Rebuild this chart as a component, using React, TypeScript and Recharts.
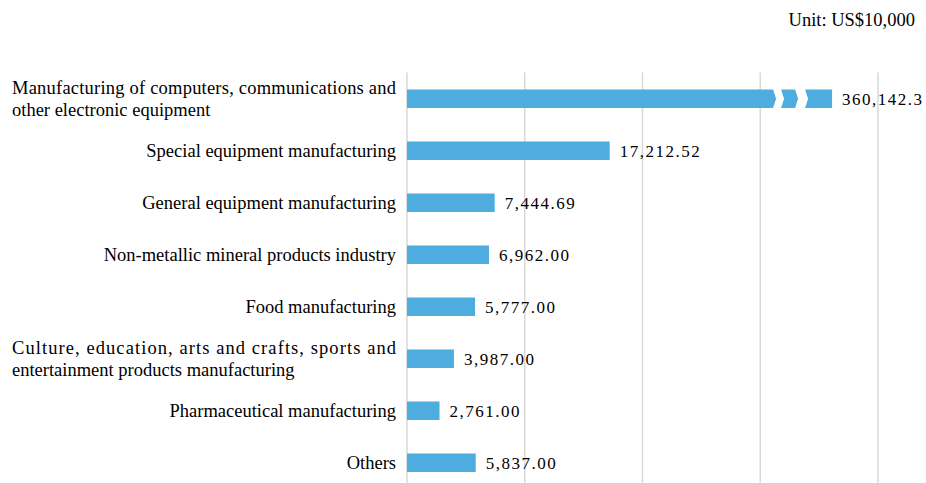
import { BarChart, Bar, XAxis, YAxis, CartesianGrid, LabelList } from "recharts"

const categories = [
  "Manufacturing of computers, communications and other electronic equipment",
  "Special equipment manufacturing",
  "General equipment manufacturing",
  "Non-metallic mineral products industry",
  "Food manufacturing",
  "Culture, education, arts and crafts, sports and entertainment products manufacturing",
  "Pharmaceutical manufacturing",
  "Others",
]
const values = [360142.3, 17212.52, 7444.69, 6962.0, 5777.0, 3987.0, 2761.0, 5837.0]
const xTicks = [0, 10000, 20000, 30000, 40000]
const unitLabel = "Unit: US$10,000"

// bars longer than this are drawn broken
const BREAK_AT = 36100

const data = categories.map((name, i) => ({
  name,
  value: values[i],
  shown: Math.min(values[i], BREAK_AT),
}))

const BLUE = "#4eadde"
const SERIF = "'Liberation Serif', 'Times New Roman', serif"

function wrap(text: string, max: number) {
  const words = text.split(" ")
  const lines: string[] = []
  let cur = ""
  for (const w of words) {
    const next = cur ? cur + " " + w : w
    if (next.length > max && cur) {
      lines.push(cur)
      cur = w
    } else cur = next
  }
  if (cur) lines.push(cur)
  return lines
}

function CategoryTick(props: any) {
  const { x, y, payload } = props
  const lines = wrap(payload.value, 48)
  const style = { fontFamily: SERIF, fontSize: 18.5, fill: "#000" }
  if (lines.length === 1) {
    return (
      <text x={x} y={y} dy={6.5} textAnchor="end" style={style}>
        {payload.value}
      </text>
    )
  }
  const boxW = 384
  return (
    <g>
      <text x={x - boxW} y={y - 11} dy={6.5} textLength={boxW} lengthAdjust="spacing" style={style}>
        {lines[0]}
      </text>
      <text x={x - boxW} y={y + 11} dy={6.5} style={style}>
        {lines[1]}
      </text>
    </g>
  )
}

function EmptyTick() {
  return <g />
}

function BrokenBar(props: any) {
  const { x, y, width, height, payload } = props
  if (payload.value <= BREAK_AT) {
    return <rect x={x} y={y} width={width} height={height} fill={BLUE} />
  }
  const e = x + width
  const t = y
  const b = y + height
  const c = y + height / 2
  const seg1 = `${x},${t} ${e - 59},${t} ${e - 56},${c} ${e - 59},${b} ${x},${b}`
  const seg2 = `${e - 51},${t} ${e - 37},${t} ${e - 34},${c} ${e - 37},${b} ${e - 51},${b} ${e - 48},${c}`
  const seg3 = `${e - 27},${t} ${e},${t} ${e},${b} ${e - 27},${b} ${e - 24},${c}`
  return (
    <g fill={BLUE}>
      <polygon points={seg1} />
      <polygon points={seg2} />
      <polygon points={seg3} />
    </g>
  )
}

function fmt(v: number) {
  const d = v >= 100000 ? 1 : 2
  return v.toLocaleString("en-US", { minimumFractionDigits: d, maximumFractionDigits: d })
}

function ValueLabel(props: any) {
  const { x, y, width, height, index } = props
  return (
    <text
      x={x + width + 10}
      y={y + height / 2}
      dy={6}
      style={{ fontFamily: SERIF, fontSize: 17, letterSpacing: 1.5, fill: "#000" }}
    >
      {fmt(values[index])}
    </text>
  )
}

export default function App() {
  return (
    <div style={{ position: "absolute", left: 0, top: 0, width: 926, height: 483, overflow: "hidden", background: "#fff" }}>
      <div
        style={{
          position: "absolute",
          right: 11,
          top: 9,
          fontFamily: SERIF,
          fontSize: 18.5,
          lineHeight: "22px",
          color: "#000",
        }}
      >
        {unitLabel}
      </div>
      <BarChart
        width={926}
        height={500}
        layout="vertical"
        data={data}
        margin={{ top: 72.5, right: 48, bottom: 11.5, left: 0 }}
        barSize={18.5}
      >
        <CartesianGrid horizontal={false} stroke="#d9d9d9" strokeWidth={1.5} />
        <XAxis
          type="number"
          domain={[0, 40000]}
          ticks={xTicks}
          axisLine={false}
          tickLine={false}
          tick={<EmptyTick />}
          height={0}
        />
        <YAxis
          type="category"
          dataKey="name"
          width={407}
          axisLine={false}
          tickLine={false}
          tickSize={0}
          tickMargin={11}
          interval={0}
          tick={<CategoryTick />}
        />
        <Bar dataKey="shown" shape={<BrokenBar />} isAnimationActive={false}>
          <LabelList dataKey="shown" content={<ValueLabel />} />
        </Bar>
      </BarChart>
    </div>
  )
}
